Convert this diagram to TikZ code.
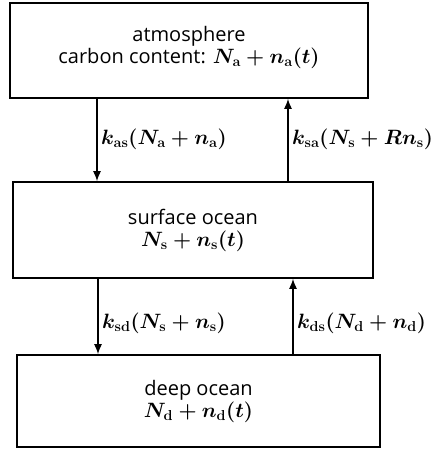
\documentclass[tikz,border=0pt]{standalone}
\usepackage{fontspec}
\setmainfont{Open Sans}
\usetikzlibrary{arrows.meta}
\tikzset{
  boxnode/.style={draw,line width=1.6pt,inner sep=0pt,align=center,font=\fontsize{20}{22}\selectfont},
  labnode/.style={anchor=west,inner sep=0pt,font=\fontsize{21}{22}\selectfont},
  arrline/.style={line width=1.4pt,-{Latex[length=10pt,width=8pt]}}
}
\newcommand{\rmsub}[1]{\mathbf{#1}}
\begin{document}
\begin{tikzpicture}[x=1pt,y=-1pt]
\useasboundingbox (0,0) rectangle (432,455);
\node[boxnode,minimum width=358pt,minimum height=95pt,text depth=11pt] (atm) at (189,50.5) {atmosphere\\carbon content: {\boldmath$N_{\rmsub{a}}+n_{\rmsub{a}}(t)$}};
\node[boxnode,minimum width=360pt,minimum height=96pt] (mid) at (193,230) {surface ocean\\{\boldmath$N_{\rmsub{s}}+n_{\rmsub{s}}(t)$}};
\node[boxnode,minimum width=363pt,minimum height=92pt] (bot) at (198.5,401) {deep ocean\\{\boldmath$N_{\rmsub{d}}+n_{\rmsub{d}}(t)$}};
\coordinate (x1) at (97,0);
\coordinate (x2) at (288,0);
\coordinate (x3) at (98,0);
\coordinate (x4) at (293,0);
\draw[arrline] (atm.south -| x1) -- (mid.north -| x1);
\draw[arrline] (mid.north -| x2) -- (atm.south -| x2);
\draw[arrline] (mid.south -| x3) -- (bot.north -| x3);
\draw[arrline] (bot.north -| x4) -- (mid.south -| x4);
\node[labnode] (l1) at (101,139) {{\boldmath$k_{\rmsub{as}}(N_{\rmsub{a}}+n_{\rmsub{a}})$}};
\node[labnode] (l2) at (292,139) {{\boldmath$k_{\rmsub{sa}}(N_{\rmsub{s}}+Rn_{\rmsub{s}})$}};
\node[labnode] (l3) at (102,323) {{\boldmath$k_{\rmsub{sd}}(N_{\rmsub{s}}+n_{\rmsub{s}})$}};
\node[labnode] (l4) at (297,323) {{\boldmath$k_{\rmsub{ds}}(N_{\rmsub{d}}+n_{\rmsub{d}})$}};
\end{tikzpicture}
\end{document}
